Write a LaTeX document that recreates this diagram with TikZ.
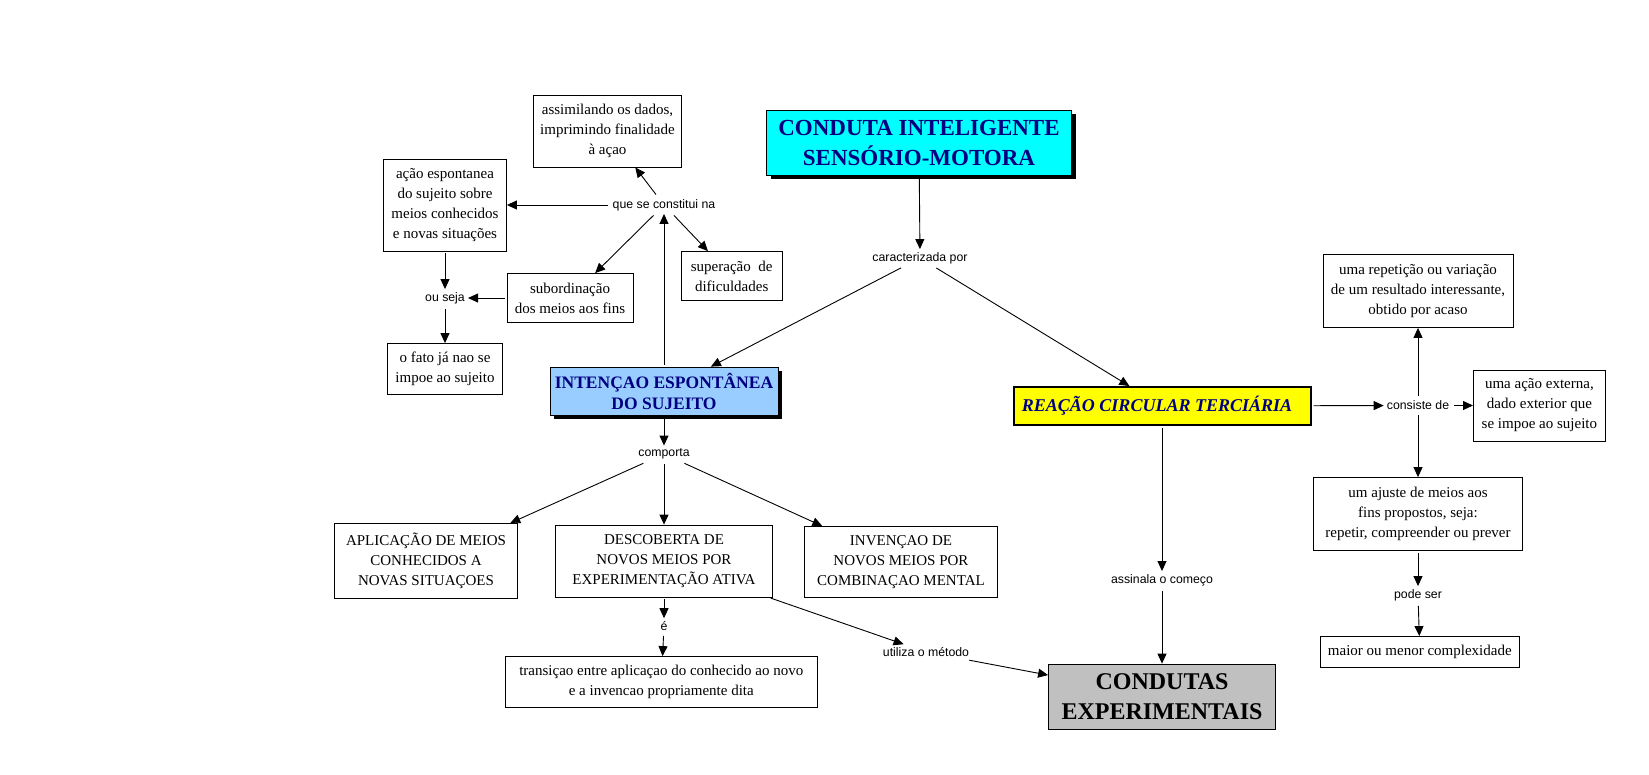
\documentclass[tikz,border=0pt]{standalone}
\usepackage{fontspec}
\setmainfont{Liberation Serif}
\setsansfont{Liberation Sans}
\usetikzlibrary{arrows.meta, shadows}
\definecolor{MapNavy}{HTML}{000080}
\definecolor{MapCyan}{HTML}{00FFFF}
\definecolor{MapBlue}{HTML}{99CCFF}
\definecolor{MapYellow}{HTML}{FFFF00}
\definecolor{MapGray}{HTML}{C0C0C0}

\begin{document}
\begin{tikzpicture}[x=1pt, y=-1pt, >={Triangle[length=10pt,width=9pt]},
  box/.style={draw, line width=0.8pt, fill=white, align=center, inner sep=2pt,
    font=\fontsize{15}{20}\selectfont},
  title/.style={draw, line width=0.8pt, align=center, inner sep=2pt, text=MapNavy,
    font=\bfseries\fontsize{23}{30}\selectfont},
  shade/.style={drop shadow={shadow xshift=4pt, shadow yshift=-4pt, fill=black, opacity=1}},
  lbl/.style={font=\sffamily\fontsize{12.3}{14}\selectfont, inner sep=3pt},
  link/.style={->, line width=0.9pt, shorten <=2pt}]
  \useasboundingbox (0,0) rectangle (1649,774);

  % main concepts
  \node[title, fill=MapCyan, shade, minimum width=305pt, minimum height=65pt] (top) at (919,142.5)
    {CONDUTA INTELIGENTE\\SENSÓRIO-MOTORA};
  \node[title, fill=MapBlue, shade, minimum width=228pt, minimum height=48pt,
    font=\bfseries\fontsize{17.5}{21}\selectfont] (intencao) at (664,391)
    {INTENÇAO ESPONTÂNEA\\DO SUJEITO};
  \node[title, fill=MapYellow, line width=2pt, minimum width=297pt, minimum height=38pt,
    font=\bfseries\itshape\fontsize{18}{21}\selectfont] (reacao) at (1162,406)
    {REAÇÃO CIRCULAR TERCIÁRIA\hspace{10pt}};
  \node[title, fill=MapGray, text=black, minimum width=227pt, minimum height=65pt,
    font=\bfseries\fontsize{24}{30}\selectfont] (condutas) at (1162,696.5)
    {CONDUTAS\\EXPERIMENTAIS\hspace{8pt}};

  % linking words
  \node[lbl] (caract) at (920,258) {caracterizada por};
  \node[lbl] (quesc) at (664,205) {que se constitui na};
  \node[lbl] (ouseja) at (445,298) {ou seja};
  \node[lbl] (comporta) at (664,454) {comporta};
  \node[lbl] (e) at (664,626) {é};
  \node[lbl] (utiliza) at (926,652) {utiliza o método};
  \node[lbl] (assinala) at (1162,580) {assinala o começo};
  \node[lbl] (consiste) at (1418,405.5) {consiste de};
  \node[lbl] (podeser) at (1418,595) {pode ser};

  % left branch
  \node[box, minimum width=148pt, minimum height=72pt] (assim) at (607.5,131)
    {assimilando os dados,\\imprimindo finalidade\\à açao};
  \node[box, minimum width=123pt, minimum height=92pt] (acao) at (445,205)
    {ação espontanea\\do sujeito sobre\\meios conhecidos\\e novas situações};
  \node[box, minimum width=101pt, minimum height=49pt] (super) at (731.7,276)
    {superação~~de\\dificuldades};
  \node[box, minimum width=126pt, minimum height=49pt] (subord) at (570,298)
    {subordinação\\dos meios aos fins};
  \node[box, minimum width=115pt, minimum height=51pt] (fato) at (445,369)
    {o fato já nao se\\impoe ao sujeito};

  % bottom branch
  \node[box, minimum width=183pt, minimum height=75pt] (aplic) at (426,561)
    {APLICAÇÃO DE MEIOS\\CONHECIDOS A\\NOVAS SITUAÇOES};
  \node[box, minimum width=217pt, minimum height=72pt] (descob) at (664,561)
    {DESCOBERTA DE\\NOVOS MEIOS POR\\EXPERIMENTAÇÃO ATIVA};
  \node[box, minimum width=193pt, minimum height=71pt] (inven) at (901,562)
    {INVENÇAO DE\\NOVOS MEIOS POR\\COMBINAÇAO MENTAL};
  \node[box, minimum width=312pt, minimum height=51pt] (trans) at (661.3,682)
    {transiçao entre aplicaçao do conhecido ao novo\\e a invencao propriamente dita};

  % right branch
  \node[box, minimum width=190pt, minimum height=73pt] (repet) at (1418,291)
    {uma repetição ou variação\\de um resultado interessante,\\obtido por acaso};
  \node[box, minimum width=132pt, minimum height=71pt] (externa) at (1539.4,405.5)
    {uma ação externa,\\dado exterior que\\se impoe ao sujeito};
  \node[box, minimum width=209pt, minimum height=73pt] (ajuste) at (1418,514)
    {um ajuste de meios aos\\fins propostos, seja:\\repetir, compreender ou prever};
  \node[box, minimum width=199pt, minimum height=31pt] (maior) at (1419.8,652)
    {maior ou menor complexidade};

  % connectors
  \draw[link] (top) -- (caract);
  \draw[link] (caract) -- (intencao);
  \draw[link] (caract) -- (reacao);
  \draw[link] (intencao) -- (quesc);
  \draw[link] (quesc) -- (assim);
  \draw[link] (quesc) -- (acao);
  \draw[link] (quesc) -- (subord);
  \draw[link] (quesc) -- (super);
  \draw[link] (acao) -- (ouseja);
  \draw[link] (subord) -- (ouseja);
  \draw[link] (ouseja) -- (fato);
  \draw[link] (intencao) -- (comporta);
  \draw[link] (comporta) -- (aplic);
  \draw[link] (comporta) -- (descob);
  \draw[link] (comporta) -- (inven);
  \draw[link] (descob) -- (e);
  \draw[link] (e) -- (trans);
  \draw[link] (descob) -- (utiliza);
  \draw[link] (utiliza) -- (condutas);
  \draw[link] (reacao) -- (assinala);
  \draw[link] (assinala) -- (condutas);
  \draw[link] (reacao) -- (consiste);
  \draw[link] (consiste) -- (repet);
  \draw[link] (consiste) -- (externa);
  \draw[link] (consiste) -- (ajuste);
  \draw[link] (ajuste) -- (podeser);
  \draw[link] (podeser) -- (maior);
\end{tikzpicture}
\end{document}
